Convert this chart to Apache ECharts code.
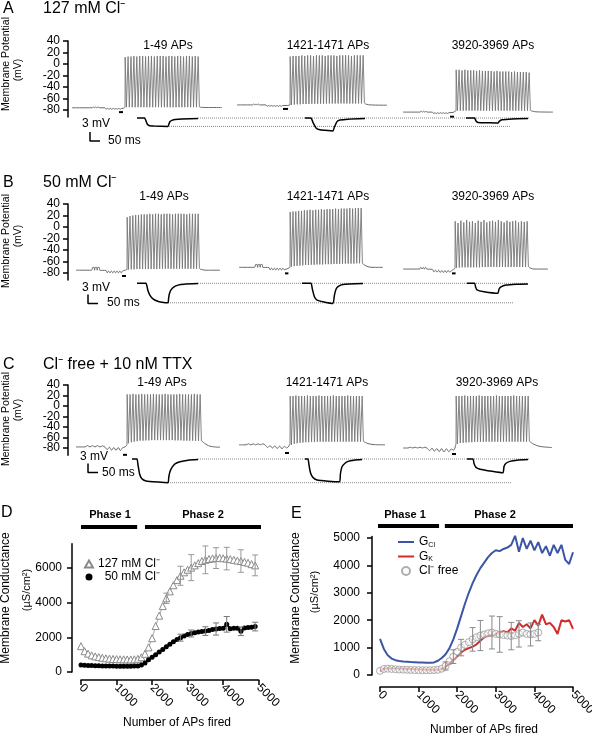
<!DOCTYPE html>
<html><head><meta charset="utf-8">
<script src="https://cdn.jsdelivr.net/npm/echarts@6/dist/echarts.min.js"></script>
<style>html,body{margin:0;padding:0;background:#fff}#c{width:592px;height:737px}</style>
</head><body><div id="c"></div>
<script>
const FONT = '"Liberation Sans", Arial, Helvetica, sans-serif';
// ---------------- Panels A-C : membrane potential sweeps (time in ms, potential in mV) ----------------
const mvTicks = [-80,-60,-40,-20,0,20,40];
const mvLabelsA = [-80,-40,0,40];
const mvLabelsB = [-60,-20,20];
// A : 127 mM Cl-
const A1_pre = [[20,-76],[120,-76],[126,-74.5],[132,-76],[138,-74.5],[144,-76],[150,-74.5],[156,-76],[185,-76],[191,-78.5],[198,-77],[205,-78.5],[212,-77],[219,-78.5],[226,-77],[233,-78.5],[240,-77],[247,-78.5],[254,-77],[261,-78.5],[268,-77],[276,-77],[285,-75]];
const A1_span = [285,650];
const A1_peaks = [12,13,13,14,13,14,14,13,14,14,13,14,14,14,13,14,14,13,14,14,13,14,14,13,14,13];
const A1_troughs = [-75,-75,-75,-75,-75,-75,-75,-75,-75,-75,-75,-75,-75,-75,-75,-75,-75,-75,-75,-75,-75,-75,-75,-75,-75,-75];
const A1_post = [[660,-75],[690,-75.5],[770,-75.5]];
const A1_stim = [[255,-83.5],[275,-83.5]];
const A1_low = [[345,0],[383,0],[388,-0.6],[394,-1.7],[400,-2.3],[410,-2.6],[430,-2.7],[500,-2.8],[504,-2.1],[510,-1.2],[520,-0.8],[535,-0.5],[570,-0.3],[650,-0.2]];
const A2_pre = [[845,-71],[922,-71],[928,-69.5],[934,-71],[940,-69.5],[946,-71],[952,-69.5],[958,-71],[990,-71],[996,-73.5],[1003,-72],[1010,-73.5],[1017,-72],[1024,-73.5],[1031,-72],[1038,-73.5],[1045,-72],[1052,-73.5],[1059,-72],[1066,-73.5],[1073,-72],[1095,-72],[1110,-71]];
const A2_span = [1110,1475];
const A2_peaks = [13,14,14,14,15,14,15,15,14,15,15,15,14,15,15,15,14,15,15,15,15,14,15,15,15,15];
const A2_troughs = [-71,-70.5,-70,-70,-69.5,-69.5,-69.5,-69,-69,-69,-69,-69,-68.5,-68.5,-68.5,-68.5,-68.5,-68.5,-68.5,-68.5,-68.5,-68.5,-68.5,-68.5,-68.5,-68.5];
const A2_post = [[1485,-69],[1510,-71],[1595,-71.5]];
const A2_stim = [[1075,-78],[1100,-78]];
const A2_low = [[1185,0],[1215,0],[1225,-1.5],[1240,-3.3],[1260,-3.9],[1300,-4.2],[1325,-4.3],[1332,-3.0],[1345,-1.2],[1360,-0.7],[1400,-0.4],[1485,-0.2]];
const A3_pre = [[1675,-83.5],[1760,-83.5],[1766,-82],[1772,-83.5],[1778,-82],[1784,-83.5],[1790,-82],[1796,-83.5],[1822,-83.5],[1828,-86],[1835,-84.5],[1842,-86],[1849,-84.5],[1856,-86],[1863,-84.5],[1870,-86],[1877,-84.5],[1884,-86],[1891,-84.5],[1898,-86],[1905,-84.5],[1925,-84],[1940,-81]];
const A3_span = [1940,2305];
const A3_peaks = [-10,-10,-11,-10,-11,-11,-11,-12,-11,-12,-12,-12,-12,-13,-12,-13,-13,-13,-13,-14,-13,-14,-14,-14,-14,-15];
const A3_troughs = [-81,-81,-81,-81,-81,-81,-81,-81,-81,-81,-81,-81,-81,-81,-81,-81,-81,-81,-81,-81,-81,-81,-81,-81,-81,-81];
const A3_post = [[2315,-81],[2340,-83],[2425,-83.5]];
const A3_stim = [[1910,-91.5],[1930,-91.5]];
const A3_low = [[1990,0],[2033,0],[2040,-1],[2050,-1.5],[2100,-1.6],[2150,-1.7],[2156,-1.1],[2170,-0.6],[2220,-0.3],[2300,-0.2]];
const A_dotHi = [[650,0],[2310,0]];
const A_dotLo = [[505,-2.8],[2210,-2.8]];
// B : 50 mM Cl-
const B1_pre = [[40,-75],[118,-75],[123,-70],[130,-70],[133,-75],[136,-70],[143,-70],[146,-75],[149,-70],[156,-70],[159,-75],[190,-75.5],[196,-79.5],[203,-76.5],[210,-79.5],[217,-76.5],[224,-79.5],[231,-76.5],[238,-79.5],[245,-76.5],[252,-79.5],[259,-76.5],[266,-79.5],[273,-76.5],[295,-74]];
const B1_span = [295,650];
const B1_peaks = [17,19,20,21,21,22,22,22,23,22,23,23,22,23,23,23,22,23,23,23,23,22,23,23,23,23];
const B1_troughs = [-74,-73.5,-73.5,-73,-73,-73,-73,-73,-73,-73,-73,-72.5,-72.5,-72.5,-72.5,-72.5,-72.5,-72.5,-72.5,-72.5,-72.5,-72.5,-72.5,-72.5,-72.5,-72.5];
const B1_post = [[660,-73],[690,-75],[760,-75]];
const B1_stim = [[270,-85],[290,-85]];
const B1_low = [[345,0],[390,0],[395,-1],[400,-2.5],[410,-4],[425,-5.2],[445,-5.9],[470,-6.3],[500,-6.5],[503,-5],[507,-3.5],[515,-2.2],[530,-1.2],[550,-0.6],[580,-0.3],[650,-0.1]];
const B2_pre = [[855,-70],[933,-70],[938,-65],[945,-65],[948,-70],[951,-65],[958,-65],[961,-70],[964,-65],[971,-65],[974,-70],[1005,-70.5],[1011,-74.5],[1018,-71.5],[1025,-74.5],[1032,-71.5],[1039,-74.5],[1046,-71.5],[1053,-74.5],[1060,-71.5],[1067,-74.5],[1074,-71.5],[1081,-74],[1110,-70]];
const B2_span = [1110,1465];
const B2_peaks = [26,27,27,28,28,29,29,30,29,30,30,31,30,31,31,31,32,31,32,32,32,33,32,33,33,33];
const B2_troughs = [-69,-68,-67.5,-67,-66.5,-66,-66,-65.5,-65.5,-65,-65,-65,-64.5,-64.5,-64.5,-64,-64,-64,-64,-63.5,-63.5,-63.5,-63.5,-63,-63,-63];
const B2_post = [[1475,-64],[1500,-69],[1530,-70],[1575,-70]];
const B2_stim = [[1085,-80.5],[1102,-80.5]];
const B2_low = [[1170,0],[1215,0],[1222,-2],[1232,-4.5],[1245,-5.6],[1280,-6.2],[1325,-6.7],[1332,-4],[1340,-2],[1350,-1.1],[1375,-0.4],[1475,-0.1]];
const B3_pre = [[1675,-73],[1758,-73],[1764,-70],[1770,-73],[1776,-70],[1782,-73],[1788,-70],[1794,-73],[1822,-73.5],[1829,-78],[1837,-75],[1845,-78.5],[1853,-75],[1861,-79],[1869,-75.5],[1877,-79],[1885,-75.5],[1893,-79],[1901,-75.5],[1909,-78.5],[1917,-76],[1935,-72]];
const B3_span = [1935,2295];
const B3_peaks = [10,7,11,8,12,9,10,7,11,9,12,8,10,11,9,12,10,8,11,9,10,11,8,10,9,10];
const B3_troughs = [-71,-70.5,-70,-70,-70,-70,-70,-70,-70,-69.5,-69.5,-69.5,-69.5,-69.5,-69.5,-69.5,-69.5,-69.5,-69.5,-69.5,-69.5,-69.5,-69.5,-69.5,-69.5,-69.5];
const B3_post = [[2305,-70],[2330,-73],[2400,-73]];
const B3_stim = [[1920,-80.5],[1938,-80.5]];
const B3_low = [[1995,0],[2033,0],[2038,-1.2],[2045,-2.2],[2080,-2.8],[2150,-3.3],[2155,-2],[2165,-1.2],[2190,-0.6],[2240,-0.3],[2300,-0.2]];
const B_dotHi = [[650,0],[2300,0]];
const B_dotLo = [[500,-6.5],[2225,-6.5]];
// C : Cl- free + 10 nM TTX
const C1_pre = [[40,-78],[85,-78],[97,-75.5],[110,-78],[122,-75.5],[135,-78],[147,-75.5],[160,-78],[172,-76],[185,-78.5],[196,-83],[207,-78.5],[218,-84],[229,-79],[240,-84.5],[251,-79],[262,-85],[273,-79.5],[285,-78],[295,-74]];
const C1_span = [295,660];
const C1_peaks = [22,22,23,22,22,23,22,22,22,23,22,22,22,23,22,22,22,22,23,22,22,22,22,23,22,22];
const C1_troughs = [-71,-69,-68,-67,-66,-66,-65.5,-65.5,-65,-65,-65,-65,-65,-65,-65,-65,-65.5,-65.5,-65.5,-66,-66,-66,-66,-66.5,-66.5,-67];
const C1_post = [[670,-67],[690,-73],[715,-77],[760,-78.5]];
const C1_stim = [[275,-93],[295,-93]];
const C1_low = [[320,0],[345,0],[350,-2],[358,-5],[368,-6.5],[390,-7.3],[450,-7.7],[500,-7.9],[504,-6],[510,-4.2],[520,-2.8],[535,-1.6],[560,-0.9],[600,-0.4],[650,-0.2]];
const C2_pre = [[855,-74],[890,-74],[902,-72],[914,-74],[926,-72],[938,-74],[950,-72],[962,-74],[974,-72],[986,-74.5],[998,-79],[1010,-75.5],[1022,-80],[1034,-76],[1046,-81],[1058,-76.5],[1070,-81.5],[1082,-77],[1094,-80],[1110,-72]];
const C2_span = [1110,1470];
const C2_peaks = [19,19,20,19,19,19,20,19,19,19,20,19,19,19,19,20,19,19,19,19,20,19,19,19,19,19];
const C2_troughs = [-74,-72,-71,-70,-69.5,-69,-69,-68.5,-68.5,-68,-68,-68,-68,-68,-68,-68,-68,-68,-68,-68,-68,-68,-68,-68,-68,-68];
const C2_post = [[1480,-68],[1500,-71.5],[1530,-73.5],[1585,-74]];
const C2_stim = [[1085,-89.5],[1105,-89.5]];
const C2_low = [[1185,0],[1200,0],[1205,-2],[1212,-4.5],[1225,-6.2],[1245,-7],[1300,-7.4],[1358,-7.6],[1362,-5],[1370,-2.6],[1385,-1.4],[1400,-0.8],[1430,-0.4],[1470,-0.2]];
const C3_pre = [[1675,-80],[1700,-80],[1712,-78.5],[1724,-80],[1736,-78.5],[1748,-80],[1760,-78.5],[1772,-80],[1784,-78.5],[1796,-80.5],[1808,-85],[1820,-80.5],[1832,-86],[1844,-81],[1856,-87],[1868,-81],[1880,-87.5],[1892,-81.5],[1904,-87],[1916,-82],[1928,-84],[1940,-72]];
const C3_span = [1940,2300];
const C3_peaks = [19,19,19,20,19,19,19,19,20,19,19,19,19,19,20,19,19,19,19,19,20,19,19,19,19,19];
const C3_troughs = [-72,-70.5,-70,-69.5,-69,-69,-68.5,-68.5,-68.5,-68,-68,-68,-68,-68,-68,-68,-68,-68,-68,-68,-68,-68,-68,-68,-68,-68];
const C3_post = [[2310,-68],[2330,-73],[2360,-77],[2420,-79]];
const C3_stim = [[1920,-91.5],[1940,-91.5]];
const C3_low = [[1995,0],[2025,0],[2030,-1.5],[2040,-2.8],[2060,-3.4],[2120,-4.1],[2175,-4.6],[2180,-2.5],[2190,-1.4],[2210,-0.8],[2245,-0.4],[2300,-0.2]];
const C_dotHi = [[650,0],[2310,0]];
const C_dotLo = [[500,-7.9],[2220,-7.9]];
// scale bars (3 mV, 50 ms)
const A_scale = [[110,-4.7],[110,-7.7],[160,-7.7]];
const B_scale = [[100,-3.7],[100,-6.7],[150,-6.7]];
const C_scale = [[100,-1.5],[100,-4.5],[150,-4.5]];

// ---------------- Panel D ----------------
const D_x = [0,100,200,300,400,500,600,700,800,900,1000,1100,1200,1300,1400,1500,1600,1700,1800,1900,2000,2100,2200,2300,2400,2500,2600,2700,2800,2900,3000,3100,3200,3300,3400,3500,3600,3700,3800,3900,4000,4100,4200,4300,4400,4500,4600,4700,4800,4900];
const D_127 = [1490,1200,1060,960,900,860,820,790,770,755,745,735,730,725,725,730,760,850,1050,1420,1950,2650,3250,3800,4250,4650,5000,5300,5550,5750,5900,6020,6150,6280,6400,6470,6520,6550,6570,6580,6560,6540,6510,6470,6430,6400,6350,6300,6220,6150];
const D_50 = [400,390,380,370,360,355,350,345,340,340,335,335,335,335,335,340,350,400,520,700,850,1000,1150,1300,1450,1600,1740,1870,1980,2080,2160,2220,2260,2300,2340,2360,2400,2450,2480,2510,2530,2750,2500,2520,2530,2350,2540,2560,2580,2620];
const D_127_errX = [2400,2800,3100,3500,3800,4100,4500,4900];
const D_127_err = [300,550,750,800,600,650,650,600];
const D_50_errX = [2800,3100,3500,3800,4100,4500,4900];
const D_50_err = [200,200,250,350,450,250,250];
const D_yTicks = [0,2000,4000,6000];
const D_phase1 = [[0,8360],[1580,8360]];
const D_phase2 = [[1800,8360],[5090,8360]];

// ---------------- Panel E ----------------
const E_x = [0,100,200,300,400,500,600,700,800,900,1000,1100,1200,1300,1400,1500,1600,1700,1800,1900,2000,2100,2200,2300,2400,2500,2600,2700,2800,2900,3000,3100,3200,3300,3400,3500,3600,3700,3800,3900,4000,4100,4200,4300,4400,4500,4600,4700,4800,4900,5000];
const E_GCl = [1320,950,720,600,540,510,490,480,470,465,460,455,450,450,460,520,620,760,980,1300,1700,2150,2600,3000,3350,3650,3900,4100,4300,4450,4550,4520,4600,4650,4750,5080,4500,5000,4600,4900,4550,4850,4450,4700,4350,4750,4450,4750,4200,4050,4480];
const E_GK = [130,240,245,240,235,230,225,220,215,210,205,200,195,190,190,190,220,300,420,550,680,820,920,980,1030,1120,1250,1380,1430,1450,1480,1560,1600,1550,1700,1620,1900,1750,1850,1700,2000,1800,2200,1850,1900,1750,1500,2000,1950,2000,1680];
const E_free_x = [0,100,200,300,400,500,600,700,800,900,1000,1100,1200,1300,1400,1500,1600,1700,1800,1900,2000,2100,2200,2300,2400,2500,2600,2700,2800,2900,3000,3100,3200,3300,3400,3500,3600,3700,3800,3900,4000,4100];
const E_free = [150,220,230,220,210,200,195,190,185,180,180,175,175,175,180,190,230,330,500,670,850,1000,1100,1200,1300,1380,1440,1480,1520,1550,1500,1480,1460,1440,1420,1450,1500,1550,1500,1480,1500,1550];
const E_free_errX = [1700,1900,2100,2400,2600,2900,3100,3400,3600,3900,4100];
const E_free_err = [150,250,300,430,550,600,650,500,480,420,300];
const E_yTicks = [0,1000,2000,3000,4000,5000];
const E_phase1 = [[-80,5440],[1530,5440]];
const E_phase2 = [[1680,5440],[5000,5440]];

// ---------------- build ----------------
const zip = (xs, ys) => xs.map((x, i) => [x, ys[i]]);
const lookup = (xs, ys, x) => ys[xs.indexOf(x)];
function spikeTrain(span, peaks, troughs) {
  const n = peaks.length, dt = (span[1] - span[0]) / (n - 1), pts = [];
  for (let i = 0; i < n; i++) {
    const t = span[0] + i * dt;
    pts.push([t, troughs[i]], [t + 0.8, peaks[i]], [t + 7, troughs[i]]);
  }
  return pts;
}
const TR_COL = '#6b6b6b';
function line(g, data, opt) {
  return Object.assign({type: 'line', xAxisIndex: g, yAxisIndex: g, data, symbol: 'none', silent: true,
    animation: false, lineStyle: {color: TR_COL, width: 1}}, opt || {});
}
function sweep(g, pre, span, peaks, troughs, post, stim) {
  const tr = spikeTrain(span, peaks, troughs);
  return [
    line(g, pre, {smooth: 0.35}),
    line(g, [pre[pre.length - 1]].concat(tr, [post[0]]), {lineStyle: {color: '#777', width: 0.9}}),
    line(g, post, {smooth: 0.4}),
    line(g, stim, {clip: false, lineStyle: {color: '#000', width: 2}})
  ];
}
function lower(g, lows, dotHi, dotLo, scale) {
  const s = [
    line(g, dotHi, {lineStyle: {color: '#888', width: 1, type: 'dotted'}}),
    line(g, dotLo, {lineStyle: {color: '#888', width: 1, type: 'dotted'}}),
    line(g, scale, {clip: false, lineStyle: {color: '#000', width: 1.5}})
  ];
  lows.forEach(l => s.push(line(g, l, {z: 3, smooth: 0.15, lineStyle: {color: '#000', width: 1.5}})));
  return s;
}
function errSeries(g, xs, errs, srcX, srcY, color) {
  return {
    type: 'custom', xAxisIndex: g, yAxisIndex: g, silent: true, animation: false, z: 4, clip: false,
    data: xs.map((x, i) => [x, lookup(srcX, srcY, x), errs[i]]),
    renderItem: (params, api) => {
      const x = api.value(0), y = api.value(1), e = api.value(2);
      const p1 = api.coord([x, y + e]), p2 = api.coord([x, y - e]);
      const st = {stroke: color, lineWidth: 1};
      return {type: 'group', children: [
        {type: 'line', shape: {x1: p1[0], y1: p1[1], x2: p2[0], y2: p2[1]}, style: st},
        {type: 'line', shape: {x1: p1[0] - 3, y1: p1[1], x2: p1[0] + 3, y2: p1[1]}, style: st},
        {type: 'line', shape: {x1: p2[0] - 3, y1: p2[1], x2: p2[0] + 3, y2: p2[1]}, style: st}
      ]};
    }
  };
}

const grids = [
  {left: 68, width: 524, top: 41, height: 76},
  {left: 68, width: 524, top: 112, height: 30},
  {left: 68, width: 524, top: 204, height: 76},
  {left: 68, width: 524, top: 277.3, height: 36},
  {left: 68, width: 524, top: 385, height: 70.35},
  {left: 68, width: 524, top: 453, height: 36},
  {left: 81, width: 177.7, top: 543.7, height: 128.3},
  {left: 380, width: 193, top: 536.6, height: 138.4}
].map(g => Object.assign({containLabel: false, outerBoundsMode: 'none'}, g));

const plain = v => String(v);
const axLine = {show: true, onZero: false, lineStyle: {color: '#000', width: 1.5}};
const axTick = vals => ({show: true, length: 5, customValues: vals, lineStyle: {color: '#000', width: 1.5}});
const lbl = (extra) => Object.assign({fontSize: 12, color: '#000', fontFamily: FONT, formatter: plain,
  hideOverlap: false, showMinLabel: true, showMaxLabel: true}, extra);
const xAxes = [0,1,2,3,4,5].map(i => ({gridIndex: i, type: 'value', min: 0, max: 2620, show: false}));
xAxes.push(
  {gridIndex: 6, type: 'value', min: 0, max: 5000, interval: 1000, offset: 8, axisLine: axLine,
   axisTick: {show: true, length: 5, lineStyle: {color: '#000', width: 1.5}}, splitLine: {show: false},
   axisLabel: lbl({rotate: -45, margin: 6})},
  {gridIndex: 7, type: 'value', min: 0, max: 5000, interval: 1000, offset: 12, axisLine: axLine,
   axisTick: {show: true, length: 5, lineStyle: {color: '#000', width: 1.5}}, splitLine: {show: false},
   axisLabel: lbl({rotate: -45, margin: 6})}
);
const mvAxis = (i, min) => ({gridIndex: i, type: 'value', position: 'left', min: min, max: 40, axisLine: axLine, axisTick: axTick(mvTicks),
  splitLine: {show: false}, axisLabel: lbl({customValues: mvLabelsA, margin: 8})});
const mvAxis2 = (i, min) => ({gridIndex: i, type: 'value', position: 'left', offset: 0, min: min, max: 40,
  axisLine: {show: false}, axisTick: {show: false}, splitLine: {show: false},
  axisLabel: lbl({customValues: mvLabelsB, margin: 8})});
const yAxes = [
  mvAxis(0, -92), {gridIndex: 1, type: 'value', min: -8, max: 2, show: false},
  mvAxis(2, -92), {gridIndex: 3, type: 'value', min: -10, max: 2, show: false},
  mvAxis(4, -94), {gridIndex: 5, type: 'value', min: -10, max: 2, show: false},
  {gridIndex: 6, type: 'value', min: 0, max: 7400, offset: 9, axisLine: axLine, axisTick: axTick(D_yTicks), splitLine: {show: false},
   axisLabel: lbl({customValues: D_yTicks, margin: 10})},
  {gridIndex: 7, type: 'value', min: 0, max: 5050, offset: 8, axisLine: axLine, axisTick: axTick(E_yTicks), splitLine: {show: false},
   axisLabel: lbl({customValues: E_yTicks, margin: 12})},
  mvAxis2(0, -92), mvAxis2(2, -92), mvAxis2(4, -94)
];

let series = [];
series = series.concat(
  sweep(0, A1_pre, A1_span, A1_peaks, A1_troughs, A1_post, A1_stim),
  sweep(0, A2_pre, A2_span, A2_peaks, A2_troughs, A2_post, A2_stim),
  sweep(0, A3_pre, A3_span, A3_peaks, A3_troughs, A3_post, A3_stim),
  lower(1, [A1_low, A2_low, A3_low], A_dotHi, A_dotLo, A_scale),
  sweep(2, B1_pre, B1_span, B1_peaks, B1_troughs, B1_post, B1_stim),
  sweep(2, B2_pre, B2_span, B2_peaks, B2_troughs, B2_post, B2_stim),
  sweep(2, B3_pre, B3_span, B3_peaks, B3_troughs, B3_post, B3_stim),
  lower(3, [B1_low, B2_low, B3_low], B_dotHi, B_dotLo, B_scale),
  sweep(4, C1_pre, C1_span, C1_peaks, C1_troughs, C1_post, C1_stim),
  sweep(4, C2_pre, C2_span, C2_peaks, C2_troughs, C2_post, C2_stim),
  sweep(4, C3_pre, C3_span, C3_peaks, C3_troughs, C3_post, C3_stim),
  lower(5, [C1_low, C2_low, C3_low], C_dotHi, C_dotLo, C_scale)
);
// D
series.push(
  {name: '127 mM Cl⁻', type: 'line', xAxisIndex: 6, yAxisIndex: 6, data: zip(D_x, D_127), animation: false, z: 3,
   symbol: 'triangle', symbolSize: 7, itemStyle: {color: '#fff', borderColor: '#8a8a8a', borderWidth: 1},
   lineStyle: {color: '#a8a8a8', width: 1}},
  {name: '  50 mM Cl⁻', type: 'line', xAxisIndex: 6, yAxisIndex: 6, data: zip(D_x, D_50), animation: false, z: 3,
   symbol: 'circle', symbolSize: 5, itemStyle: {color: '#000'}, lineStyle: {color: '#000', width: 2}},
  errSeries(6, D_127_errX, D_127_err, D_x, D_127, '#999'),
  errSeries(6, D_50_errX, D_50_err, D_x, D_50, '#777'),
  line(6, D_phase1, {clip: false, lineStyle: {color: '#000', width: 4}}),
  line(6, D_phase2, {clip: false, lineStyle: {color: '#000', width: 4}})
);
// E
series.push(
  {name: 'GCl', type: 'line', xAxisIndex: 7, yAxisIndex: 7, data: zip(E_x, E_GCl), animation: false, clip: false,
   symbol: 'none', lineStyle: {color: '#3d55a5', width: 2}, itemStyle: {color: '#3d55a5'}},
  {name: 'Clfree', type: 'scatter', xAxisIndex: 7, yAxisIndex: 7, data: zip(E_free_x, E_free), animation: false, z: 3,
   symbol: 'circle', symbolSize: 7, itemStyle: {color: 'rgba(255,255,255,0.55)', borderColor: '#9a9a9a', borderWidth: 1}},
  {name: 'GK', type: 'line', xAxisIndex: 7, yAxisIndex: 7, data: zip(E_x, E_GK), animation: false, z: 2,
   symbol: 'none', lineStyle: {color: '#d12b2b', width: 2}, itemStyle: {color: '#d12b2b'}},
  errSeries(7, E_free_errX, E_free_err, E_free_x, E_free, '#8a8a8a'),
  line(7, E_phase1, {clip: false, lineStyle: {color: '#000', width: 4}}),
  line(7, E_phase2, {clip: false, lineStyle: {color: '#000', width: 4}})
);

// ---------------- texts ----------------
function txt(x, y, text, size, opt) {
  return Object.assign({type: 'text', x, y, silent: true,
    style: Object.assign({text, font: (opt && opt.bold ? 'bold ' : '') + size + 'px ' + FONT, fill: '#000',
      textAlign: (opt && opt.align) || 'left', textVerticalAlign: 'middle'}, (opt && opt.style) || {})},
    opt && opt.rot ? {rotation: Math.PI / 2} : {});
}
const graphics = [
  txt(3, 9, 'A', 16), txt(43, 9, '127 mM Cl⁻', 16),
  txt(3, 183, 'B', 16), txt(43, 183, '50 mM Cl⁻', 16),
  txt(3, 365, 'C', 16), txt(43, 365, 'Cl⁻ free + 10 nM TTX', 16),
  txt(1, 513, 'D', 16), txt(291, 514, 'E', 16),
  txt(6, 64, 'Membrane Potential', 10.5, {align: 'center', rot: true}), txt(18, 70, '(mV)', 10.5, {align: 'center', rot: true}),
  txt(6, 241, 'Membrane Potential', 10.5, {align: 'center', rot: true}), txt(18, 236, '(mV)', 10.5, {align: 'center', rot: true}),
  txt(6, 419, 'Membrane Potential', 10.5, {align: 'center', rot: true}), txt(18, 410, '(mV)', 10.5, {align: 'center', rot: true}),
  txt(168, 46, '1-49 APs', 12, {align: 'center'}), txt(328, 46, '1421-1471 APs', 12, {align: 'center'}), txt(493, 46, '3920-3969 APs', 12, {align: 'center'}),
  txt(164, 197, '1-49 APs', 12, {align: 'center'}), txt(328, 197, '1421-1471 APs', 12, {align: 'center'}), txt(493, 197, '3920-3969 APs', 12, {align: 'center'}),
  txt(162, 383, '1-49 APs', 12, {align: 'center'}), txt(327, 383, '1421-1471 APs', 12, {align: 'center'}), txt(497, 383, '3920-3969 APs', 12, {align: 'center'}),
  txt(82, 124, '3 mV', 12), txt(108, 141, '50 ms', 12),
  txt(82, 288, '3 mV', 12), txt(107, 303, '50 ms', 12),
  txt(80, 457, '3 mV', 12), txt(102, 473, '50 ms', 12),
  txt(110, 515, 'Phase 1', 11, {align: 'center', bold: true}), txt(203, 515, 'Phase 2', 11, {align: 'center', bold: true}),
  txt(405, 515, 'Phase 1', 11, {align: 'center', bold: true}), txt(495, 515, 'Phase 2', 11, {align: 'center', bold: true}),
  txt(6, 598, 'Membrane Conductance', 12, {align: 'center', rot: true}), txt(27, 590, '(µS/cm²)', 11, {align: 'center', rot: true}),
  txt(296, 598, 'Membrane Conductance', 12, {align: 'center', rot: true}), txt(315, 592, '(µS/cm²)', 11, {align: 'center', rot: true}),
  txt(177, 723, 'Number of APs fired', 12, {align: 'center'}), txt(484, 730, 'Number of APs fired', 12, {align: 'center'})
];

const chart = echarts.init(document.getElementById('c'), null, {renderer: 'canvas', width: 592, height: 737});
chart.setOption({
  animation: false,
  backgroundColor: '#fff',
  textStyle: {fontFamily: FONT},
  grid: grids, xAxis: xAxes, yAxis: yAxes, series,
  legend: [
    {data: [{name: '127 mM Cl⁻', icon: 'triangle'}, {name: '  50 mM Cl⁻', icon: 'circle'}], orient: 'vertical',
     left: 79, top: 553, itemWidth: 8, itemHeight: 7, itemGap: 1, selectedMode: false,
     textStyle: {fontSize: 12, color: '#000', fontFamily: FONT, lineHeight: 12}},
    {data: [{name: 'GCl', itemStyle: {opacity: 0}}, {name: 'GK', itemStyle: {opacity: 0}}, {name: 'Clfree'}],
     orient: 'vertical', left: 392, top: 531, itemWidth: 16, itemHeight: 8, itemGap: 2,
     selectedMode: false,
     formatter: n => n === 'GCl' ? '{m|G}{s|Cl}' : n === 'GK' ? '{m|G}{s|K}' : '{m|Cl⁻ free}',
     textStyle: {color: '#000', fontFamily: FONT, fontSize: 12,
       rich: {m: {fontSize: 12, lineHeight: 13, fontFamily: FONT, color: '#000'},
              s: {fontSize: 7, lineHeight: 13, verticalAlign: 'bottom', fontFamily: FONT, color: '#000'}}}}
  ],
  graphic: graphics
});
</script></body></html>
